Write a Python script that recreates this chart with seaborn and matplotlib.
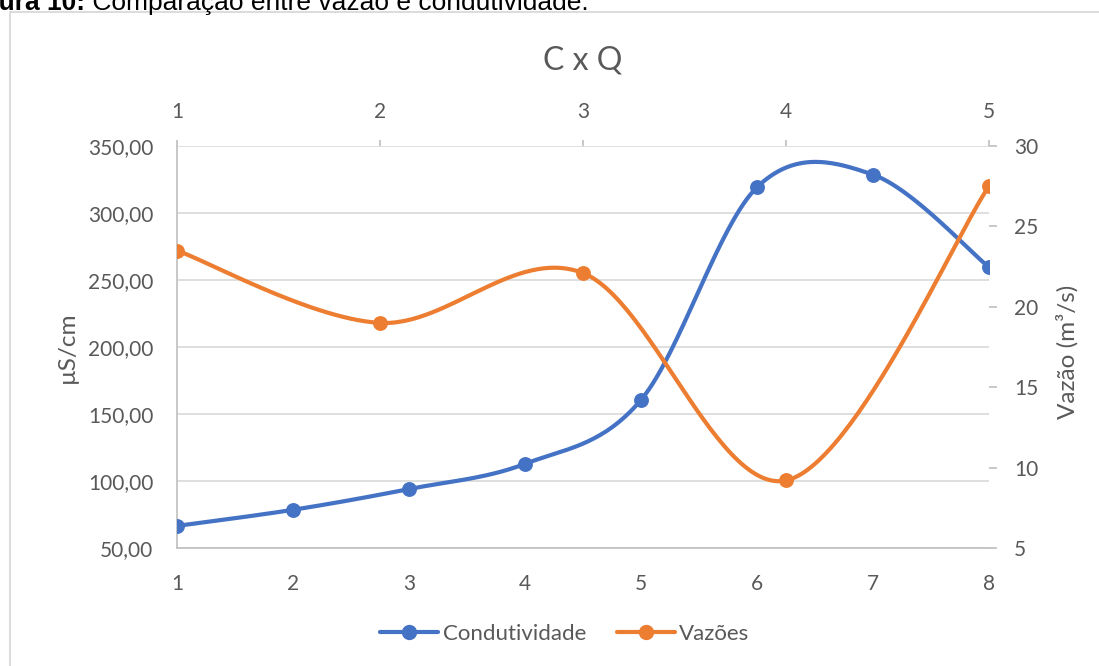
import numpy as np
import pandas as pd
import matplotlib
matplotlib.use("Agg")
import matplotlib.pyplot as plt
from matplotlib.lines import Line2D
from matplotlib.patches import Rectangle
from matplotlib.ticker import FuncFormatter, FixedLocator
import seaborn as sns

# --- data -------------------------------------------------------------
amostras_c = [1, 2, 3, 4, 5, 6, 7, 8]
condutividade = [66.5, 78.5, 94.0, 112.8, 160.5, 319.2, 328.6, 259.5]   # µS/cm

amostras_q = [1, 2, 3, 4, 5]
vazoes = [23.5, 19.0, 22.1, 9.2, 27.5]                                   # m³/s

titulo = "C x Q"
legenda = ["Condutividade", "Vazões"]
rotulo_esq = "µS/cm"
rotulo_dir = "Vazão (m³/s)"
legenda_fig = ("Figura 10:", " Comparação entre vazão e condutividade.")

AZUL = "#4472C4"
LARANJA = "#ED7D31"
CINZA_TXT = "#595959"
CINZA_GRADE = "#d9d9d9"
CINZA_EIXO = "#bfbfbf"


def suavizar(xs, ys, n=60):
    """Bezier spline through the points (Catmull-Rom style tangents)."""
    P = np.column_stack([xs, ys]).astype(float)
    ext = np.vstack([P[0], P, P[-1]])
    t = np.linspace(0, 1, n)[:, None]
    partes = []
    for i in range(len(P) - 1):
        p0, p1, p2, p3 = ext[i], ext[i + 1], ext[i + 2], ext[i + 3]
        c1 = p1 + (p2 - p0) / 6.0
        c2 = p2 - (p3 - p1) / 6.0
        seg = ((1 - t) ** 3) * p1 + 3 * ((1 - t) ** 2) * t * c1 \
            + 3 * (1 - t) * t ** 2 * c2 + t ** 3 * p2
        partes.append(seg if i == 0 else seg[1:])
    return np.vstack(partes)


sns.set_theme(style="white")
plt.rcParams["font.family"] = ["Lato", "DejaVu Sans"]

W, H = 1099, 666
fig = plt.figure(figsize=(W / 100, H / 100), dpi=100)
fig.patch.set_facecolor("white")

# plot area in pixels: x 177..989, y 146..548
x0, x1, y0, y1 = 177, 989, 146, 548
pos = [x0 / W, 1 - y1 / H, (x1 - x0) / W, (y1 - y0) / H]
ax = fig.add_axes(pos)
ax2 = fig.add_axes(pos, frameon=False)

# chart frame
fig.patches.append(Rectangle((10 / W, -0.05), 1.2, 1 - 12 / H + 0.05,
                             transform=fig.transFigure, fill=False,
                             edgecolor=CINZA_GRADE, linewidth=1.3))

# conductivity on primary axes
cc = suavizar(amostras_c, condutividade)
df_c = pd.DataFrame({"x": cc[:, 0], "y": cc[:, 1]})
sns.lineplot(data=df_c, x="x", y="y", ax=ax, color=AZUL, linewidth=3.0,
             sort=False, estimator=None)
sns.scatterplot(x=amostras_c, y=condutividade, ax=ax, color=AZUL, s=115,
                edgecolor=AZUL, linewidth=0, zorder=3)

# discharge on secondary axes (top / right)
qq = suavizar(amostras_q, vazoes)
df_q = pd.DataFrame({"x": qq[:, 0], "y": qq[:, 1]})
sns.lineplot(data=df_q, x="x", y="y", ax=ax2, color=LARANJA, linewidth=3.0,
             sort=False, estimator=None)
sns.scatterplot(x=amostras_q, y=vazoes, ax=ax2, color=LARANJA, s=115,
                edgecolor=LARANJA, linewidth=0, zorder=3)

# primary axes styling
ax.set_xlim(1, 8)
ax.set_ylim(50, 350)
ax.xaxis.set_major_locator(FixedLocator(amostras_c))
ax.yaxis.set_major_locator(FixedLocator(np.arange(50, 351, 50)))
ax.yaxis.set_major_formatter(FuncFormatter(lambda v, p: f"{v:.2f}".replace(".", ",")))
ax.grid(axis="y", color=CINZA_GRADE, linewidth=1.2)
ax.grid(axis="x", visible=False)
ax.set_xlabel("")
ax.set_ylabel("")
for s in ["top", "right"]:
    ax.spines[s].set_visible(False)
for s in ["left", "bottom"]:
    ax.spines[s].set_color(CINZA_EIXO)
    ax.spines[s].set_linewidth(1.2)
ax.tick_params(axis="y", length=0, pad=17, labelsize=15, labelcolor=CINZA_TXT)
ax.tick_params(axis="x", length=0, pad=19, labelsize=15, labelcolor=CINZA_TXT)
ax.set_facecolor("white")

# secondary axes styling
ax2.set_xlim(1, 5)
ax2.set_ylim(5, 30)
ax2.xaxis.tick_top()
ax2.yaxis.tick_right()
ax2.xaxis.set_major_locator(FixedLocator(amostras_q))
ax2.yaxis.set_major_locator(FixedLocator(np.arange(5, 31, 5)))
ax2.set_xlabel("")
ax2.set_ylabel("")
ax2.grid(False)
ax2.spines["top"].set_visible(True)
ax2.spines["right"].set_visible(True)
ax2.spines["left"].set_visible(False)
ax2.spines["bottom"].set_visible(False)
for s in ["top", "right"]:
    ax2.spines[s].set_color(CINZA_EIXO)
    ax2.spines[s].set_linewidth(1.2)
ax2.tick_params(axis="both", direction="out", width=1.2,
                color=CINZA_EIXO, labelsize=15, labelcolor=CINZA_TXT)
ax2.tick_params(axis="x", length=4.5, pad=13)
ax2.tick_params(axis="y", length=6, pad=12)

# titles and axis labels
fig.text(583 / W, 1 - 60 / H, titulo, ha="center", va="center",
         fontsize=23, color=CINZA_TXT)
fig.text(67 / W, 1 - 347 / H, rotulo_esq, rotation=90, ha="center",
         va="center", fontsize=17.5, color=CINZA_TXT)
fig.text(1067 / W, 1 - 352 / H, rotulo_dir, rotation=90, ha="center",
         va="center", fontsize=17.5, color=CINZA_TXT)

# legend
handles = [Line2D([], [], color=AZUL, lw=3.0, marker="o", ms=10),
           Line2D([], [], color=LARANJA, lw=3.0, marker="o", ms=10)]
fig.legend(handles, legenda, loc="center", bbox_to_anchor=(565 / W, 1 - 634 / H),
           ncol=2, frameon=False, fontsize=16, labelcolor=CINZA_TXT,
           handlelength=2.6, handletextpad=0.2, columnspacing=1.4)

# figure caption along the top edge
renderer = fig.canvas.get_renderer()
cap_kw = dict(family=["Liberation Sans", "DejaVu Sans"], fontsize=19,
              color="black", va="baseline")
tmp = fig.text(0, 0, "Fig", fontweight="bold", **cap_kw)
w_fig = tmp.get_window_extent(renderer).width
tmp.remove()
xs = -(w_fig + 1) / W
t1 = fig.text(xs, 1 - 10 / H, legenda_fig[0], fontweight="bold", **cap_kw)
w1 = t1.get_window_extent(renderer).width
fig.text(xs + w1 / W, 1 - 10 / H, legenda_fig[1], **cap_kw)

fig.savefig("out.png", dpi=100, facecolor="white")
